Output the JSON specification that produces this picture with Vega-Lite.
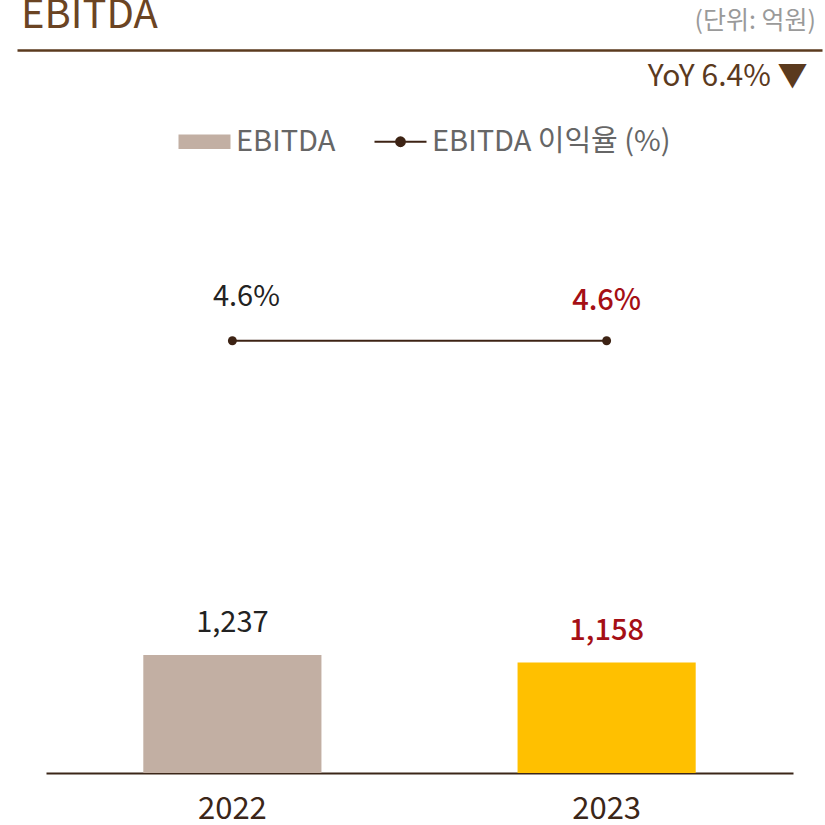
{
  "$schema": "https://vega.github.io/schema/vega-lite/v6.json",
  "padding": {"left": 17, "right": 3, "top": -4, "bottom": 0},
  "background": "white",
  "spacing": 122,
  "config": {"view": {"stroke": null}, "font": "Noto Sans CJK KR"},
  "datasets": {
    "d": [
      {"year": "2022", "ebitda": 1237, "margin": 4.6, "hl": false},
      {"year": "2023", "ebitda": 1158, "margin": 4.6, "hl": true}
    ],
    "h": [
      {"k": 0, "t": "EBITDA"},
      {"k": 1, "t": "(단위: 억원)"}
    ]
  },
  "vconcat": [
    {
      "width": 805,
      "height": 49,
      "data": {"name": "h"},
      "encoding": {
        "x": {
          "field": "k", "type": "quantitative", "scale": {"domain": [0, 1], "nice": false},
          "axis": {
            "orient": "bottom", "domain": true, "domainColor": "#5b3a1e", "domainWidth": 2.5,
            "ticks": false, "labels": false, "grid": false,
            "title": "YoY 6.4% ▼", "titleAnchor": "end", "titleAlign": "right", "titleX": 790,
            "titleColor": "#5b3a1e", "titleFontSize": 30, "titleFontWeight": "normal", "titlePadding": 11
          }
        },
        "text": {"field": "t"}
      },
      "layer": [
        {
          "transform": [{"filter": "datum.k == 0"}],
          "mark": {"type": "text", "align": "left", "baseline": "alphabetic", "dy": 2.5, "dx": 4, "fontSize": 40, "color": "#6b4423"}
        },
        {
          "transform": [{"filter": "datum.k == 1"}],
          "mark": {"type": "text", "align": "right", "baseline": "alphabetic", "dy": 3, "dx": -6, "fontSize": 25, "color": "#9a9a9a"}
        }
      ]
    },
    {
      "width": 805,
      "height": 560,
      "data": {"name": "d"},
      "encoding": {
        "x": {
          "field": "year", "type": "nominal",
          "scale": {"paddingInner": 0.524, "paddingOuter": 0.26, "range": [29, 776]},
          "axis": {
            "orient": "bottom", "domainColor": "#3b2618", "domainWidth": 2, "ticks": false,
            "labelFontSize": 31, "labelColor": "#3b2618", "labelPadding": 21, "labelAngle": 0, "title": null
          }
        }
      },
      "layer": [
        {
          "encoding": {
            "y": {
              "field": "ebitda", "type": "quantitative", "scale": {"domain": [0, 5870], "nice": false}, "axis": null
            }
          },
          "layer": [
            {
              "mark": {"type": "bar"},
              "encoding": {
                "color": {
                  "condition": {"test": "datum.year == '2023'", "value": "#ffc000"},
                  "datum": "EBITDA",
                  "scale": {"domain": ["EBITDA", "EBITDA 이익율 (%)"], "range": ["#c2afa3", "#3d2314"]},
                  "legend": {
                    "orient": "none", "legendX": 173, "legendY": 126, "direction": "horizontal", "title": null,
                    "labelFontSize": 29, "labelColor": "#666666", "labelLimit": 500, "symbolSize": 2704, "columnPadding": 34,
                    "labelOffset": 17, "padding": 0,
                    "encode": {
                      "symbols": {
                        "update": {
                          "shape": {"signal": "datum.value === 'EBITDA' ? 'M-1,-0.28H1V0.28H-1Z' : 'M-1,0H1M0.17,0A0.17,0.17 0 1 1 -0.17,0A0.17,0.17 0 1 1 0.17,0'"},
                          "fill": {"signal": "datum.value === 'EBITDA' ? '#c2afa3' : '#3d2314'"},
                          "stroke": {"signal": "datum.value === 'EBITDA' ? null : '#3d2314'"},
                          "strokeWidth": {"signal": "datum.value === 'EBITDA' ? 0 : 2"},
                          "opacity": {"value": 1}
                        }
                      }
                    }
                  }
                }
              }
            },
            {
              "transform": [{"filter": "!datum.hl"}],
              "mark": {"type": "text", "baseline": "alphabetic", "dy": -23, "fontSize": 29, "color": "#222222"},
              "encoding": {"text": {"field": "ebitda", "type": "quantitative", "format": ","}}
            },
            {
              "transform": [{"filter": "datum.hl"}],
              "mark": {"type": "text", "baseline": "alphabetic", "dy": -23, "fontSize": 29, "fontWeight": 500, "color": "#a50f15"},
              "encoding": {"text": {"field": "ebitda", "type": "quantitative", "format": ","}}
            }
          ]
        },
        {
          "encoding": {
            "y": {"field": "margin", "type": "quantitative", "scale": {"domain": [0, 5.96], "nice": false}, "axis": null}
          },
          "layer": [
            {
              "mark": {"type": "line", "strokeWidth": 2},
              "encoding": {"color": {"datum": "EBITDA 이익율 (%)"}}
            },
            {
              "mark": {"type": "point", "filled": true, "size": 80, "opacity": 1},
              "encoding": {"color": {"datum": "EBITDA 이익율 (%)"}}
            },
            {
              "transform": [{"filter": "!datum.hl"}, {"calculate": "format(datum.margin, '.1f') + '%'", "as": "mlabel"}],
              "mark": {"type": "text", "baseline": "alphabetic", "dy": -35, "dx": 14, "fontSize": 29, "color": "#222222"},
              "encoding": {"text": {"field": "mlabel", "type": "nominal"}}
            },
            {
              "transform": [{"filter": "datum.hl"}, {"calculate": "format(datum.margin, '.1f') + '%'", "as": "mlabel"}],
              "mark": {"type": "text", "baseline": "alphabetic", "dy": -31, "fontSize": 29, "fontWeight": 500, "color": "#a50f15"},
              "encoding": {"text": {"field": "mlabel", "type": "nominal"}}
            }
          ]
        }
      ],
      "resolve": {"scale": {"y": "independent"}}
    }
  ]
}
